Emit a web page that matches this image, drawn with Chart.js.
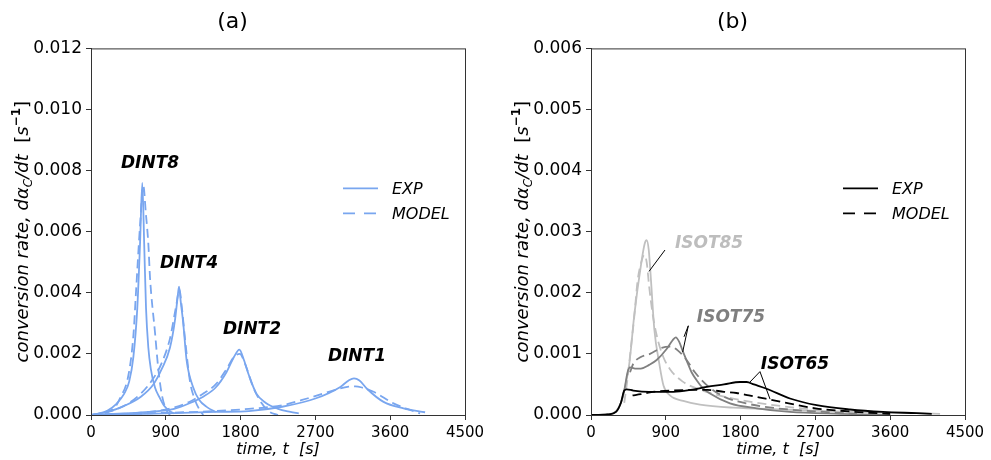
<!DOCTYPE html>
<html>
<head>
<meta charset="utf-8">
<script src="https://cdn.jsdelivr.net/npm/chart.js@4.4.0/dist/chart.umd.min.js"></script>
<style>
  body { margin: 0; background: #fff; width: 991px; height: 460px; position: relative; overflow: hidden; }
  .panel { position: absolute; top: 0; }
  #panelA { left: 0; }
  #panelB { left: 500px; }
</style>
</head>
<body>
<div class="panel" id="panelA"><canvas id="chartA" width="495" height="460"></canvas></div>
<div class="panel" id="panelB"><canvas id="chartB" width="491" height="460"></canvas></div>
<script>
// ticks
var timeTicks = [0, 900, 1800, 2700, 3600, 4500];
var rateTicksA = [0, 0.002, 0.004, 0.006, 0.008, 0.010, 0.012];
var rateTicksB = [0, 0.001, 0.002, 0.003, 0.004, 0.005, 0.006];

// (a) dynamic runs, time [s] / rate [1/s]
var dint8ExpT = [0, 100, 200, 300, 400, 460, 510, 557, 590, 617, 640, 662, 690, 720, 770, 820, 880, 950, 1000];
var dint8ExpV = [0, 0.00005, 0.00015, 0.00035, 0.0007, 0.0011, 0.0019, 0.0035, 0.0056, 0.0076, 0.0056, 0.0035, 0.0022, 0.0015, 0.0009, 0.0006, 0.0003, 0.00012, 0.00005];
var dint8ModT = [0, 100, 200, 300, 350, 450, 510, 541, 590, 630, 660, 690, 710, 770, 810, 850, 900, 950];
var dint8ModV = [0, 0.00003, 0.0001, 0.0003, 0.00055, 0.0013, 0.0026, 0.004, 0.0062, 0.0075, 0.0066, 0.0056, 0.0045, 0.0027, 0.0015, 0.0007, 0.0002, 0];

var dint4ExpT = [0, 200, 400, 600, 750, 850, 950, 1010, 1040, 1059, 1080, 1110, 1150, 1230, 1300, 1400, 1500];
var dint4ExpV = [0, 0.0001, 0.0003, 0.0006, 0.001, 0.0015, 0.0022, 0.0031, 0.0038, 0.0042, 0.0037, 0.003, 0.0018, 0.0009, 0.0005, 0.00025, 0.0001];
var dint4ModT = [0, 200, 400, 600, 750, 850, 950, 1020, 1065, 1090, 1131, 1191, 1250, 1311, 1350];
var dint4ModV = [0, 0.0001, 0.0003, 0.0007, 0.0012, 0.0017, 0.0025, 0.0035, 0.0041, 0.0036, 0.0025, 0.0011, 0.0005, 0.00015, 0];

var dint2ExpT = [0, 400, 700, 1000, 1200, 1350, 1500, 1630, 1720, 1785, 1840, 1900, 1990, 2100, 2250, 2400, 2500];
var dint2ExpV = [0, 0.00005, 0.0001, 0.0002, 0.0004, 0.0006, 0.0009, 0.0014, 0.0019, 0.00214, 0.0018, 0.0013, 0.0007, 0.0004, 0.0002, 0.0001, 0.00005];
var dint2ModT = [0, 700, 1000, 1200, 1350, 1500, 1630, 1720, 1790, 1850, 1953, 2050, 2150, 2250];
var dint2ModV = [0, 0.0001, 0.00025, 0.00045, 0.0007, 0.001, 0.0015, 0.0019, 0.002, 0.0017, 0.0009, 0.0004, 0.0001, 0];

var dint1ExpT = [0, 500, 1000, 1500, 1900, 2300, 2700, 3000, 3100, 3164, 3230, 3320, 3520, 3760, 4020];
var dint1ExpV = [0, 0.00003, 0.00006, 0.0001, 0.00013, 0.00027, 0.00054, 0.00092, 0.00113, 0.0012, 0.00113, 0.00086, 0.00043, 0.00022, 0.00009];
var dint1ModT = [0, 1000, 1500, 1900, 2300, 2600, 2900, 3100, 3180, 3260, 3400, 3640, 3800, 3960];
var dint1ModV = [0, 0.00008, 0.00013, 0.0002, 0.00032, 0.00054, 0.00079, 0.00093, 0.00094, 0.0009, 0.00076, 0.00038, 0.0002, 0.00005];

// (b) isothermal runs
var isot85ExpT = [0, 200, 300, 360, 400, 461, 522, 602, 645, 670, 695, 722, 762, 822, 873, 950, 1110, 1311, 1712, 2310, 3116, 3918, 4200];
var isot85ExpV = [0, 0.00001, 0.00006, 0.0002, 0.0004, 0.00084, 0.00165, 0.00246, 0.0028, 0.00286, 0.0027, 0.0022, 0.0014, 0.00084, 0.00048, 0.00032, 0.00023, 0.00017, 0.00012, 0.00009, 0.00005, 0.00003, 0.00002];
var isot85ModT = [400, 440, 480, 520, 561, 605, 641, 670, 700, 742, 800, 870, 950, 1100, 1300, 1600, 2000, 2600, 3200];
var isot85ModV = [0.0002, 0.0006, 0.0011, 0.0016, 0.0022, 0.0025, 0.00262, 0.0025, 0.0021, 0.00165, 0.00125, 0.00095, 0.00075, 0.00055, 0.00042, 0.0003, 0.0002, 0.0001, 0.00005];

var isot75ExpT = [0, 200, 300, 360, 400, 440, 469, 530, 600, 700, 790, 910, 980, 1020, 1060, 1103, 1151, 1210, 1271, 1340, 1432, 1672, 1993, 2394, 3000, 3600];
var isot75ExpV = [0, 0.00001, 0.00005, 0.0002, 0.0004, 0.0007, 0.00078, 0.00076, 0.00076, 0.00082, 0.0009, 0.00108, 0.00122, 0.00127, 0.0012, 0.00105, 0.00089, 0.0007, 0.00057, 0.00045, 0.00035, 0.00019, 0.00011, 0.00005, 0.00002, 0];
var isot75ModT = [470, 509, 600, 710, 850, 950, 1050, 1150, 1250, 1400, 1600, 1900, 2300, 2800, 3200];
var isot75ModV = [0.0007, 0.00084, 0.00095, 0.001, 0.0011, 0.00112, 0.00105, 0.0009, 0.0007, 0.00048, 0.0003, 0.00018, 0.0001, 0.00005, 0.00002];

var isot65ExpT = [0, 200, 300, 360, 400, 430, 509, 700, 991, 1200, 1392, 1600, 1793, 1873, 1960, 2113, 2394, 2715, 3116, 3514, 3918, 4100];
var isot65ExpV = [0, 0.00001, 0.00005, 0.0002, 0.0004, 0.00042, 0.0004, 0.00038, 0.00038, 0.00041, 0.00046, 0.0005, 0.00054, 0.00054, 0.0005, 0.00043, 0.00027, 0.00016, 0.00009, 0.00005, 0.00003, 0.00002];
var isot65ModT = [500, 600, 710, 950, 1200, 1400, 1600, 1750, 1900, 2050, 2200, 2450, 2700, 3000, 3300, 3600];
var isot65ModV = [0.00032, 0.00034, 0.00037, 0.0004, 0.00041, 0.00041, 0.00038, 0.00036, 0.00032, 0.00028, 0.00024, 0.00017, 0.00011, 0.00007, 0.00004, 0.00002];

var dintNames = ['DINT8', 'DINT4', 'DINT2', 'DINT1'];
var isotNames = ['ISOT85', 'ISOT75', 'ISOT65'];
var legendNames = ['EXP', 'MODEL'];

var FONT = '"DejaVu Sans", sans-serif';
var BLUE = '#79a6ef';
var DASH = [9, 5];
var LEGEND_DASH = [12, 9];
Chart.defaults.font.family = FONT;
Chart.defaults.color = '#000';

function series(t, v) {
    return t.map(function (x, i) { return { x: x, y: v[i] }; });
}

function line(label, t, v, color, dashed) {
    return {
        label: label,
        data: series(t, v),
        borderColor: color,
        borderWidth: 1.8,
        borderDash: dashed ? DASH : [],
        pointRadius: 0,
        fill: false,
        cubicInterpolationMode: 'monotone'
    };
}

// frame, curve labels, leader lines, legend and rotated y title
var decor = {
    id: 'decor',
    afterDatasetsDraw: function (chart, args, opts) {
        var ctx = chart.ctx, a = chart.chartArea;
        var xs = chart.scales.x, ys = chart.scales.y;
        function px(p) { return [xs.getPixelForValue(p[0]), ys.getPixelForValue(p[1])]; }
        ctx.save();

        ctx.strokeStyle = '#333';
        ctx.lineWidth = 1;
        ctx.setLineDash([]);
        ctx.strokeRect(a.left + 0.5, a.top + 0.5, a.right - a.left, a.bottom - a.top);

        ctx.strokeStyle = '#000';
        opts.leaders.forEach(function (l) {
            var f = px(l.from);
            l.to.forEach(function (p) {
                var q = px(p);
                ctx.beginPath();
                ctx.moveTo(f[0], f[1]);
                ctx.lineTo(q[0], q[1]);
                ctx.stroke();
            });
        });

        ctx.font = 'italic bold 17px ' + FONT;
        ctx.textAlign = 'center';
        ctx.textBaseline = 'middle';
        opts.labels.forEach(function (l) {
            var p = px(l.at);
            ctx.fillStyle = l.color;
            ctx.fillText(l.text, p[0], p[1]);
        });

        // legend
        ctx.font = 'italic 16px ' + FONT;
        ctx.textAlign = 'left';
        legendNames.forEach(function (name, i) {
            var y = a.top + 140 + i * 25;
            ctx.strokeStyle = opts.legendColor;
            ctx.lineWidth = 1.8;
            ctx.setLineDash(i === 1 ? LEGEND_DASH : []);
            ctx.beginPath();
            ctx.moveTo(a.left + 252, y);
            ctx.lineTo(a.left + 287, y);
            ctx.stroke();
            ctx.fillStyle = '#000';
            ctx.fillText(name, a.left + 301, y + 1);
        });
        ctx.setLineDash([]);

        // y axis title with subscript and superscript
        var parts = [
            { t: 'conversion rate, d\u03B1', f: 'italic 18px ', dy: 0 },
            { t: 'C', f: 'italic 12px ', dy: 4 },
            { t: '/dt', f: 'italic 18px ', dy: 0 },
            { t: '  [', f: '18px ', dy: 0 },
            { t: 's', f: 'italic 18px ', dy: 0 },
            { t: '\u22121', f: 'bold 12px ', dy: -8 },
            { t: ']', f: '18px ', dy: 0 }
        ];
        var total = 0;
        parts.forEach(function (p) { ctx.font = p.f + FONT; p.w = ctx.measureText(p.t).width; total += p.w; });
        ctx.translate(22, (a.top + a.bottom) / 2);
        ctx.rotate(-Math.PI / 2);
        ctx.fillStyle = '#000';
        ctx.textBaseline = 'alphabetic';
        var x = -total / 2;
        parts.forEach(function (p) {
            ctx.font = p.f + FONT;
            ctx.fillText(p.t, x, 6 + p.dy);
            x += p.w;
        });
        ctx.restore();
    }
};

function makeOptions(title, rateTicks, rightPad, extra) {
    return {
        responsive: false,
        animation: false,
        layout: { padding: { right: rightPad, bottom: 0 } },
        plugins: {
            legend: { display: false },
            tooltip: { enabled: false },
            title: { display: true, text: title, font: { size: 22, weight: 'normal' }, padding: { top: 9, bottom: 13 }, color: '#000' },
            decor: extra
        },
        scales: {
            x: {
                type: 'linear',
                min: 0, max: 4500,
                afterBuildTicks: function (s) { s.ticks = timeTicks.map(function (v) { return { value: v }; }); },
                afterFit: function (s) { s.height = 45; },
                ticks: { font: { size: 15 }, color: '#000', padding: 4, maxRotation: 0, callback: function (v) { return String(v); } },
                grid: { drawOnChartArea: false, tickLength: 5, color: '#333' },
                border: { color: '#333' },
                title: { display: true, text: 'time, t  [s]', font: { size: 16, style: 'italic' }, padding: { top: 0, bottom: 1 }, color: '#000' }
            },
            y: {
                min: 0, max: rateTicks[rateTicks.length - 1],
                afterBuildTicks: function (s) { s.ticks = rateTicks.map(function (v) { return { value: v }; }); },
                afterFit: function (s) { s.width = 91; },
                ticks: { font: { size: 17 }, color: '#000', padding: 4, callback: function (v) { return v.toFixed(3); } },
                grid: { drawOnChartArea: false, tickLength: 5, color: '#333' },
                border: { color: '#333' }
            }
        }
    };
}

// (a)
new Chart(document.getElementById('chartA').getContext('2d'), {
    type: 'line',
    data: {
        datasets: [
            line('DINT8 EXP', dint8ExpT, dint8ExpV, BLUE, false),
            line('DINT8 MODEL', dint8ModT, dint8ModV, BLUE, true),
            line('DINT4 EXP', dint4ExpT, dint4ExpV, BLUE, false),
            line('DINT4 MODEL', dint4ModT, dint4ModV, BLUE, true),
            line('DINT2 EXP', dint2ExpT, dint2ExpV, BLUE, false),
            line('DINT2 MODEL', dint2ModT, dint2ModV, BLUE, true),
            line('DINT1 EXP', dint1ExpT, dint1ExpV, BLUE, false),
            line('DINT1 MODEL', dint1ModT, dint1ModV, BLUE, true)
        ]
    },
    options: makeOptions('(a)', rateTicksA, 30, {
        legendColor: BLUE,
        leaders: [],
        labels: [
            { text: dintNames[0], at: [710, 0.00824], color: '#000' },
            { text: dintNames[1], at: [1179, 0.00497], color: '#000' },
            { text: dintNames[2], at: [1937, 0.00281], color: '#000' },
            { text: dintNames[3], at: [3200, 0.0019], color: '#000' }
        ]
    }),
    plugins: [decor]
});

// (b)
var LIGHT = '#c0c0c0', MID = '#808080', DARK = '#000000';
new Chart(document.getElementById('chartB').getContext('2d'), {
    type: 'line',
    data: {
        datasets: [
            line('ISOT65 EXP', isot65ExpT, isot65ExpV, DARK, false),
            line('ISOT65 MODEL', isot65ModT, isot65ModV, DARK, true),
            line('ISOT75 EXP', isot75ExpT, isot75ExpV, MID, false),
            line('ISOT75 MODEL', isot75ModT, isot75ModV, MID, true),
            line('ISOT85 EXP', isot85ExpT, isot85ExpV, LIGHT, false),
            line('ISOT85 MODEL', isot85ModT, isot85ModV, LIGHT, true)
        ]
    },
    options: makeOptions('(b)', rateTicksB, 26, {
        legendColor: DARK,
        leaders: [
            { from: [890, 0.0027], to: [[698, 0.00235]] },
            { from: [1171, 0.00146], to: [[1119, 0.00128], [1103, 0.00103]] },
            { from: [2033, 0.00071], to: [[1913, 0.00054], [2154, 0.00026]] }
        ],
        labels: [
            { text: isotNames[0], at: [1420, 0.00281], color: '#bdbdbd' },
            { text: isotNames[1], at: [1684, 0.0016], color: '#7f7f7f' },
            { text: isotNames[2], at: [2454, 0.00082], color: '#000' }
        ]
    }),
    plugins: [decor]
});
</script>
</body>
</html>
